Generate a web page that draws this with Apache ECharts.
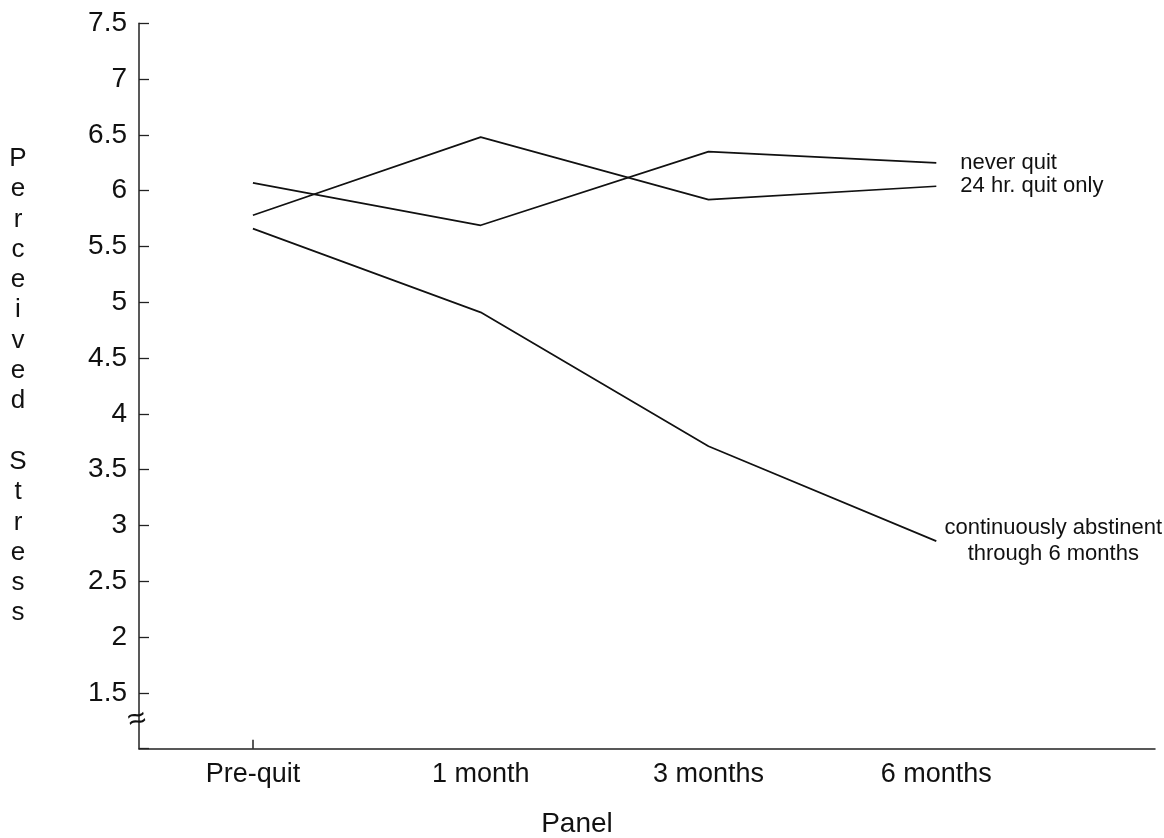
<!DOCTYPE html>
<html>
<head>
<meta charset="utf-8">
<script src="https://cdn.jsdelivr.net/npm/echarts@6/dist/echarts.min.js"></script>
<style>
html,body{margin:0;padding:0;background:#fff;}
#chart{width:1164px;height:838px;}
</style>
</head>
<body>
<div id="chart"></div>
<script>
// ---- data ----
const categories = ['Pre-quit', '1 month', '3 months', '6 months'];
const neverQuit = [6.07, 5.69, 6.35, 6.25];
const quit24hr = [5.78, 6.48, 5.92, 6.04];
const abstinent = [5.66, 4.91, 3.71, 2.86];
const seriesNames = ['never quit', '24 hr. quit only', 'continuously abstinent\nthrough 6 months'];
const yTickLabels = [1.5, 2, 2.5, 3, 3.5, 4, 4.5, 5, 5.5, 6, 6.5, 7, 7.5];
const yTitle = 'Perceived Stress';
const xTitle = 'Panel';

const FONT = '"Liberation Sans", Arial, Helvetica, sans-serif';
const INK = '#111';

function toPoints(arr) { return arr.map((v, i) => [i, v]); }

const chart = echarts.init(document.getElementById('chart'), null, {renderer: 'canvas'});

const lineStyle = {color: INK, width: 1.7};

chart.setOption({
  animation: false,
  backgroundColor: '#fff',
  grid: {left: 139, right: 9, top: 23.3, bottom: 89.3, containLabel: false, outerBoundsMode: 'none'},
  xAxis: {
    type: 'value',
    min: -0.5,
    max: 3.96,
    name: xTitle,
    nameLocation: 'middle',
    nameGap: 62,
    nameTextStyle: {color: INK, fontFamily: FONT, fontSize: 28, padding: [0, 140, 0, 0]},
    axisLine: {show: true, onZero: false, lineStyle: {color: '#222', width: 1.5}},
    axisTick: {show: true, inside: true, length: 9, customValues: [0], lineStyle: {color: '#222', width: 1.5}},
    axisLabel: {
      customValues: [0, 1, 2, 3],
      formatter: v => categories[Math.round(v)] || '',
      color: INK, fontFamily: FONT, fontSize: 27, margin: 12
    },
    splitLine: {show: false}
  },
  yAxis: {
    type: 'value',
    min: 1,
    max: 7.5,
    interval: 0.5,
    name: yTitle.split('').join('\n'),
    nameLocation: 'middle',
    nameRotate: 0,
    nameGap: 121,
    nameTextStyle: {color: INK, fontFamily: FONT, fontSize: 26, lineHeight: 30.3, align: 'center', verticalAlign: 'middle', padding: [6, 0, 0, 0]},
    axisLine: {show: true, onZero: false, lineStyle: {color: '#222', width: 1.5}},
    axisTick: {show: true, inside: true, length: 10, lineStyle: {color: '#222', width: 1.3}},
    axisLabel: {
      customValues: yTickLabels,
      formatter: v => String(v),
      color: INK, fontFamily: FONT, fontSize: 28, margin: 12
    },
    splitLine: {show: false}
  },
  graphic: [{
    type: 'text',
    x: 137, y: 720,
    z: 100,
    rotation: 0.25,
    style: {text: '\u2248', fill: INK, font: '32px ' + FONT, align: 'center', verticalAlign: 'middle'}
  }],
  series: [
    {
      name: seriesNames[0], type: 'line', data: toPoints(neverQuit),
      symbol: 'none', lineStyle: lineStyle,
      endLabel: {show: true, formatter: seriesNames[0], distance: 24, color: INK, fontFamily: FONT, fontSize: 22}
    },
    {
      name: seriesNames[1], type: 'line', data: toPoints(quit24hr),
      symbol: 'none', lineStyle: lineStyle,
      endLabel: {show: true, formatter: seriesNames[1], distance: 24, color: INK, fontFamily: FONT, fontSize: 22, padding: [6, 0, 0, 0]}
    },
    {
      name: seriesNames[2], type: 'line', data: toPoints(abstinent),
      symbol: 'none', lineStyle: lineStyle,
      endLabel: {show: true, formatter: seriesNames[2], distance: 117, align: 'center', color: INK, fontFamily: FONT, fontSize: 22, lineHeight: 26, padding: [0, 0, 10, 0]}
    }
  ]
});
</script>
</body>
</html>
